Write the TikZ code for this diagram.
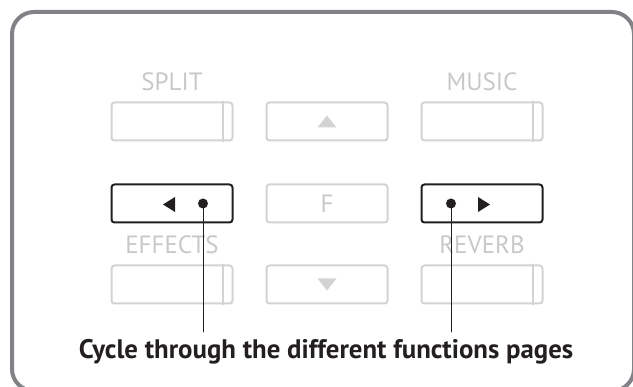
\documentclass[tikz,border=0pt]{standalone}
\usepackage{fontspec}
\setmainfont{PT Sans}
\usetikzlibrary{positioning}
\definecolor{framegray}{HTML}{808285}
\definecolor{keygray}{HTML}{D1D3D4}
\definecolor{labelgray}{HTML}{C7C8CA}
\definecolor{ink}{HTML}{231F20}
\tikzset{
 key/.style={draw=keygray,line width=2pt,rounded corners=3pt,minimum width=121pt,minimum height=38pt,inner sep=0pt},
 activekey/.style={key,draw=ink},
 keylabel/.style={text=labelgray,font=\fontsize{25}{25}\selectfont},
}
\begin{document}
\begin{tikzpicture}[x=1pt,y=-1pt,line cap=round,line join=round]
 \useasboundingbox (0,0) rectangle (633,387);
 \draw[framegray,line width=4pt,rounded corners=22pt] (12,12) rectangle (634,391);
 % top row
 \node[key] (split) at (172,121.5) {}; \node[keylabel] (splitlabel) at (172,82) {SPLIT};
 \draw[keygray,line width=2pt] ([xshift=-11pt]split.north east) -- ([xshift=-11pt]split.south east);
 \node[key] (up) at (327,121.5) {};
 \fill[keygray] ([shift={(-9.5,6)}]up.center) -- ++(19,0) -- ++(-9.5,-12) -- cycle;
 \node[key] (music) at (482,121.5) {}; \node[keylabel] (musiclabel) at (482,82) {MUSIC};
 \draw[keygray,line width=2pt] ([xshift=-11pt]music.north east) -- ([xshift=-11pt]music.south east);
 % middle row
 \node[activekey] (left) at (172,203.5) {};
 \fill[ink] (163,204.5) -- (175,197) -- (175,212) -- cycle;
 \coordinate (ldot) at (203,203.5); \fill[ink] (ldot) circle (5pt);
 \node[key] (fkey) at (327,203.5) {}; \node[keylabel] (flabel) at (327,203.5) {F};
 \node[activekey] (right) at (482,203.5) {};
 \fill[ink] (490,204.5) -- (478,197) -- (478,212) -- cycle;
 \coordinate (rdot) at (451,203.5); \fill[ink] (rdot) circle (5pt);
 % bottom row
 \node[keylabel] (effectslabel) at (172,245) {EFFECTS};
 \node[key] (effects) at (172,284.5) {};
 \draw[keygray,line width=2pt] ([xshift=-11pt]effects.north east) -- ([xshift=-11pt]effects.south east);
 \node[key] (down) at (327,284.5) {};
 \fill[keygray] ([shift={(-9.5,-6)}]down.center) -- ++(19,0) -- ++(-9.5,12) -- cycle;
 \node[keylabel] (reverblabel) at (482,245) {REVERB};
 \node[key] (reverb) at (482,284.5) {};
 \draw[keygray,line width=2pt] ([xshift=-11pt]reverb.north east) -- ([xshift=-11pt]reverb.south east);
 % caption and leaders
 \node[text=ink,font=\bfseries\fontsize{26.8}{26.8}\selectfont] (caption) at (326,352) {Cycle through the different functions pages};
 \coordinate (lend) at (203,332); \coordinate (rend) at (451,332);
 \draw[ink,line width=1pt] (ldot) -- (lend); \draw[ink,line width=1pt] (rdot) -- (rend);
\end{tikzpicture}
\end{document}
